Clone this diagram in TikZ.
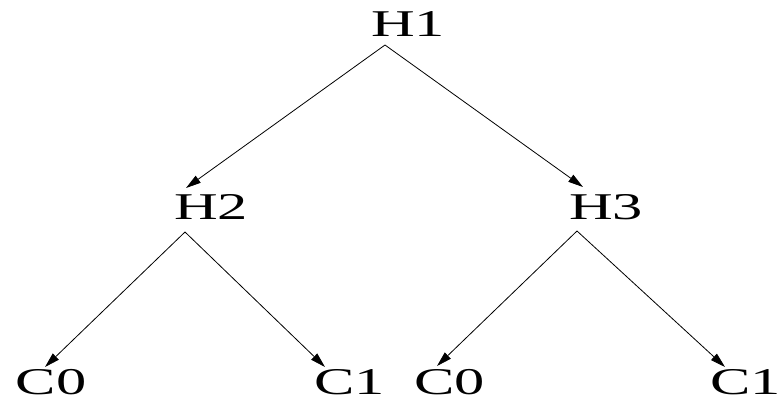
\documentclass[tikz,border=0pt]{standalone}
\usepackage{fontspec}
\setmainfont{Liberation Serif}
\usetikzlibrary{arrows.meta}
\begin{document}
\begin{tikzpicture}[x=1pt,y=-1pt,
  lbl/.style={anchor=base west,inner sep=0pt,outer sep=0pt,font=\fontsize{37.8}{40}\selectfont},
  arr/.style={line width=0.8pt,-{Triangle[length=15pt,width=8.5pt]}}]
\useasboundingbox (0,0) rectangle (782,401);
\newcommand{\wide}[1]{\scalebox{1.6}[1]{#1}}
\node[lbl] (h1) at (371,37) {\wide{H1}};
\node[lbl] (h2) at (174,219) {\wide{H2}};
\node[lbl] (h3) at (569,219) {\wide{H3}};
\node[lbl] (c0a) at (16,394) {\wide{C0}};
\node[lbl] (c1a) at (314,394) {\wide{C1}};
\node[lbl] (c0b) at (414,394) {\wide{C0}};
\node[lbl] (c1b) at (710,394) {\wide{C1}};
\coordinate (h1s) at (385,45);
\coordinate (h2s) at (185,232);
\coordinate (h3s) at (577,231);
\coordinate (h2t) at (186,188);
\coordinate (h3t) at (583,187);
\coordinate (c0at) at (45,367);
\coordinate (c1at) at (325,367);
\coordinate (c0bt) at (437,366);
\coordinate (c1bt) at (725,367);
\draw[arr] (h1s) -- (h2t);
\draw[arr] (h1s) -- (h3t);
\draw[arr] (h2s) -- (c0at);
\draw[arr] (h2s) -- (c1at);
\draw[arr] (h3s) -- (c0bt);
\draw[arr] (h3s) -- (c1bt);
\end{tikzpicture}
\end{document}
